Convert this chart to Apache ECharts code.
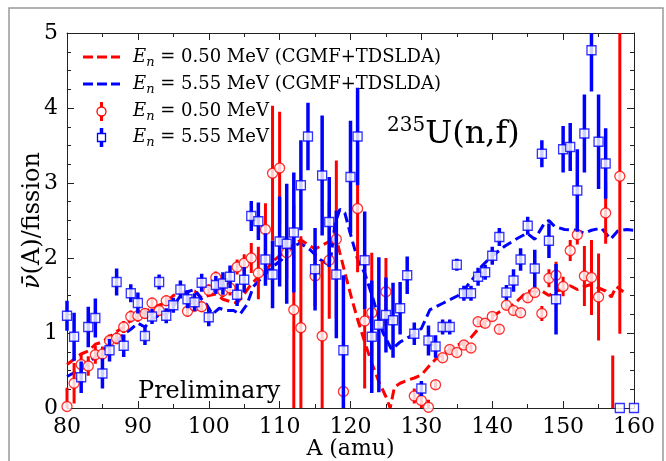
<!DOCTYPE html>
<html><head><meta charset="utf-8">
<script src="https://cdn.jsdelivr.net/npm/echarts@6/dist/echarts.min.js"></script>
<style>html,body{margin:0;padding:0;background:#fff}#c{width:666px;height:461px}</style>
</head><body><div id="c"></div>
<script>
// ---- data ----
const xTicks = [80, 90, 100, 110, 120, 130, 140, 150, 160];
const yTicks = [0, 1, 2, 3, 4, 5];

const theoryLowA  = [80,81,82,83,84,85,86,87,88,89,90,91,92,93,94,95,96,97,98,99,100,101,102,103,104,105,106,107,108,109,110,111,112,113,114,115,116,117,117.8,118.5,119.5,120.2,121.1,122,123,124,125,125.6,126.2,127,128,129,130,131,132,133,134,135,136,137,138,139,140,141,142,143,144,145,146,147,148,149,150,151,152,153,154,155,156,156.8,157.5,158.5];
const theoryLowNu = [0.58,0.65,0.72,0.76,0.85,0.88,0.95,1.02,1.08,1.17,1.24,1.28,1.33,1.37,1.41,1.50,1.54,1.55,1.56,1.47,1.50,1.52,1.45,1.42,1.40,1.52,1.65,1.75,1.83,1.95,2.03,2.10,2.18,2.24,2.18,2.12,2.17,2.22,2.34,2.07,1.70,1.45,1.15,0.88,0.60,0.35,0.15,0.0,0.28,0.33,0.37,0.40,0.44,0.55,0.65,0.72,0.78,0.84,0.86,0.94,1.05,1.15,1.22,1.28,1.33,1.38,1.47,1.56,1.55,1.56,1.50,1.56,1.58,1.63,1.58,1.62,1.65,1.60,1.56,1.48,1.62,1.55];

const theoryHighA  = [80,81,82,83,84,85,86,87,88,89,90,91,92,93,94,95,96,97,98,99,99.7,100.5,101.5,102.5,103.5,104.4,105.4,106.3,107.7,109,110.3,111.7,112.9,114.3,115.7,117.1,117.8,118.5,119.2,120.2,121.1,122,123.2,124.6,125.8,127,128.9,130,131.2,133.1,135.2,136.4,137.5,138.5,139.9,141.8,143.7,144.9,146,147.4,148,148.8,150.2,151.9,153,154,155.4,156.7,157.7,159,160];
const theoryHighNu = [0.42,0.47,0.52,0.60,0.68,0.76,0.85,0.90,0.98,1.05,1.13,1.08,1.18,1.24,1.25,1.35,1.50,1.55,1.58,1.45,1.38,1.25,1.33,1.30,1.30,1.25,1.38,1.62,1.76,1.88,1.98,2.14,2.20,2.11,1.98,1.90,2.45,2.65,2.60,2.25,1.95,1.80,1.45,1.00,0.78,0.88,0.98,1.06,1.31,1.40,1.50,1.62,1.75,1.89,2.02,2.16,2.27,2.33,2.25,2.47,2.50,2.42,2.38,2.37,2.33,2.37,2.40,2.25,2.36,2.38,2.37];

const expLowA   = [80,81,82,83,84,85,86,87,88,89,90,91,92,93,94,97,98,99,100,101,102,103,104,105,106,107,108,109,110,111,112,113,115,116,117,118,119,121,122,123,125,129,130,131,132,133,134,135,136,137,138,139,140,141,142,143,144,145,146,147,148,149,150,151,152,153,154,155,156,157,158];
const expLowNu  = [0.02,0.33,0.58,0.56,0.71,0.72,0.90,0.93,1.08,1.22,1.23,1.26,1.40,1.30,1.43,1.29,1.36,1.35,1.57,1.74,1.56,1.60,1.88,1.93,2.00,1.80,2.38,3.13,3.20,2.07,1.31,1.07,1.76,0.96,1.97,2.25,0.22,2.66,1.16,1.27,1.55,0.16,0.10,0.01,0.31,0.67,0.78,0.74,0.84,0.80,1.15,1.13,1.22,1.05,1.37,1.30,1.27,1.47,1.54,1.26,1.73,1.77,1.62,2.10,2.31,1.76,1.74,1.48,2.60,-1.40,3.09];
const expLowErr = [0.25,0.27,0.15,0.13,0.12,0.10,0.08,0.08,0.08,0.08,0.08,0.07,0.07,0.07,0.07,0.07,0.07,0.07,0.08,0.08,0.08,0.10,0.10,0.12,0.20,0.35,0.35,0.90,0.75,0.35,1.40,1.22,0.40,1.00,0.78,1.05,0.30,0.85,0.90,0.80,0.45,0.10,0.10,0.10,0.06,0.05,0.05,0.05,0.05,0.05,0.05,0.05,0.06,0.06,0.06,0.06,0.06,0.06,0.06,0.10,0.12,0.18,0.13,0.14,0.13,0.40,0.50,0.58,0.41,2.10,2.10];

const expHighA   = [80,81,82,83,84,85,86,87,88,89,90,91,92,93,94,95,96,97,98,99,100,101,102,103,104,105,106,107,108,109,110,111,112,113,114,115,116,117,118,119,120,121,122,123,124,125,126,127,128,129,130,131,132,133,134,135,136,137,138,139,140,141,142,143,144,145,146,147,148,149,150,151,152,153,154,155,156,158,160];
const expHighNu  = [1.23,0.95,0.41,1.08,1.20,0.46,0.77,1.68,0.83,1.53,1.40,0.96,1.22,1.68,1.23,1.37,1.58,1.45,1.41,1.67,1.21,1.64,1.66,1.75,1.51,1.71,2.56,2.49,1.98,1.78,2.22,2.19,2.34,2.97,3.62,1.85,3.10,2.48,1.78,0.77,3.08,3.62,1.97,0.95,1.11,1.24,1.17,1.33,1.77,0.99,0.26,0.90,0.82,1.08,1.08,1.91,1.53,1.53,1.75,1.81,2.03,2.28,1.54,1.70,1.98,2.43,1.86,3.39,2.23,1.45,3.45,3.48,2.90,3.66,4.77,3.55,3.26,0.0,0.0];
const expHighErr = [0.20,0.32,0.21,0.27,0.26,0.20,0.15,0.18,0.15,0.12,0.14,0.12,0.10,0.10,0.10,0.10,0.12,0.12,0.12,0.12,0.12,0.12,0.15,0.15,0.15,0.17,0.20,0.25,0.35,0.45,0.60,0.80,0.80,0.60,0.45,0.55,0.80,0.60,0.85,1.00,0.75,0.65,0.65,0.75,0.90,0.50,0.50,0.35,0.25,0.15,0.10,0.20,0.15,0.10,0.10,0.08,0.10,0.10,0.12,0.10,0.12,0.12,0.10,0.15,0.15,0.12,0.25,0.18,0.23,0.47,0.31,0.32,0.55,0.52,0.55,0.63,0.47,0.0,0.0];

// ---- chart ----
const RED = '#ff0000', BLUE = '#0000ff';
const SERIF = 'DejaVu Serif';
const YMIN = 0, YMAX = 5;

function pairs(a, b) { return a.map((x, i) => [x, b[i]]); }
function triples(a, b, c) { return a.map((x, i) => [x, b[i], c[i]]); }

function errSeries(xs, ys, es, color, w, z) {
  return {
    type: 'custom', z: z, silent: true,
    data: triples(xs, ys, es),
    encode: { x: 0, y: 1 },
    renderItem: function (params, api) {
      const x = api.value(0), y = api.value(1), e = api.value(2);
      let lo = Math.max(y - e, YMIN), hi = Math.min(y + e, YMAX);
      if (hi <= lo) return null;
      const p1 = api.coord([x, lo]), p2 = api.coord([x, hi]);
      return { type: 'line', shape: { x1: p1[0], y1: p1[1], x2: p2[0], y2: p2[1] },
               style: { stroke: color, lineWidth: w } };
    }
  };
}

const axisCommon = {
  type: 'value',
  splitLine: { show: false },
  axisLine: { show: true, onZero: false, lineStyle: { color: '#222', width: 1 } },
  axisTick: { show: true, inside: true, length: 7, lineStyle: { color: '#222' } },
  minorTick: { show: true, length: 4, lineStyle: { color: '#222' } },
};

const chart = echarts.init(document.getElementById('c'), null, { renderer: 'canvas' });
chart.setOption({
  animation: false,
  backgroundColor: '#fff',
  grid: { left: 67, right: 32, top: 33, bottom: 53, containLabel: false, outerBoundsMode: 'none' },
  xAxis: [
    Object.assign({}, axisCommon, {
      min: xTicks[0], max: xTicks[xTicks.length - 1], interval: 10, position: 'bottom',
      minorTick: Object.assign({}, axisCommon.minorTick, { splitNumber: 2 }),
      axisLabel: { color: '#000', fontFamily: SERIF, fontSize: 22, margin: 8 },
      name: 'A (amu)', nameLocation: 'middle', nameGap: 30, nameMoveOverlap: false,
      nameTextStyle: { color: '#000', fontFamily: SERIF, fontSize: 22 }
    }),
    Object.assign({}, axisCommon, {
      min: xTicks[0], max: xTicks[xTicks.length - 1], interval: 10, position: 'top',
      minorTick: Object.assign({}, axisCommon.minorTick, { splitNumber: 2 }),
      axisLabel: { show: false }
    })
  ],
  yAxis: [
    Object.assign({}, axisCommon, {
      min: yTicks[0], max: yTicks[yTicks.length - 1], interval: 1, position: 'left',
      minorTick: Object.assign({}, axisCommon.minorTick, { splitNumber: 4 }),
      axisLabel: { color: '#000', fontFamily: SERIF, fontSize: 22, margin: 9 },
      name: '{i|ν̄}{r|(A)/fission}', nameLocation: 'middle', nameGap: 22, nameRotate: 90, nameMoveOverlap: false,
      nameTextStyle: { color: '#000', fontFamily: SERIF, fontSize: 24,
        rich: { i: { fontFamily: SERIF, fontStyle: 'italic', fontSize: 24, color: '#000' },
                r: { fontFamily: SERIF, fontSize: 24, color: '#000' } } }
    }),
    Object.assign({}, axisCommon, {
      min: yTicks[0], max: yTicks[yTicks.length - 1], interval: 1, position: 'right',
      minorTick: Object.assign({}, axisCommon.minorTick, { splitNumber: 4 }),
      axisLabel: { show: false }
    })
  ],
  series: [
    { type: 'line', name: 'low-theory', data: pairs(theoryLowA, theoryLowNu), showSymbol: false, symbol: 'none',
      lineStyle: { color: RED, width: 3, type: [10, 5] }, z: 2, clip: true, silent: true },
    { type: 'line', name: 'high-theory', data: pairs(theoryHighA, theoryHighNu), showSymbol: false, symbol: 'none',
      lineStyle: { color: BLUE, width: 3, type: [10, 5] }, z: 2, clip: true, silent: true },
    errSeries(expLowA, expLowNu, expLowErr, RED, 3, 3),
    { type: 'scatter', data: pairs(expLowA, expLowNu), symbol: 'circle', symbolSize: 10, clip: true, z: 4,
      itemStyle: { color: '#fff', borderColor: RED, borderWidth: 1.3 }, silent: true },
    errSeries(expHighA, expHighNu, expHighErr, BLUE, 3.5, 5),
    { type: 'scatter', data: pairs(expHighA, expHighNu), symbol: 'rect', symbolSize: 9, clip: true, z: 6,
      itemStyle: { color: '#fff', borderColor: BLUE, borderWidth: 1.3 }, silent: true }
  ],
  graphic: [
    { type: 'rect', shape: { x: 9, y: 8, width: 654, height: 470 }, z: 0,
      style: { fill: null, stroke: '#999', lineWidth: 1.5 }, silent: true },
    // legend
    { type: 'line', shape: { x1: 83, y1: 57, x2: 120, y2: 57 }, style: { stroke: RED, lineWidth: 3, lineDash: [10, 4] }, z: 10 },
    { type: 'line', shape: { x1: 83, y1: 84, x2: 120, y2: 84 }, style: { stroke: BLUE, lineWidth: 3, lineDash: [10, 4] }, z: 10 },
    { type: 'line', shape: { x1: 101.5, y1: 102, x2: 101.5, y2: 121 }, style: { stroke: RED, lineWidth: 3 }, z: 10 },
    { type: 'circle', shape: { cx: 101.5, cy: 111.5, r: 4.5 }, style: { fill: '#fff', stroke: RED, lineWidth: 1.3 }, z: 11 },
    { type: 'line', shape: { x1: 101.5, y1: 128, x2: 101.5, y2: 147 }, style: { stroke: BLUE, lineWidth: 3.5 }, z: 10 },
    { type: 'rect', shape: { x: 97.5, y: 133.5, width: 8, height: 8 }, style: { fill: '#fff', stroke: BLUE, lineWidth: 1.3 }, z: 11 },
    ...[['0.50 MeV (CGMF+TDSLDA)', 57], ['5.55 MeV (CGMF+TDSLDA)', 84], ['0.50 MeV', 111], ['5.55 MeV', 137]].map(([t, y]) => ({
      type: 'text', x: 133, y: y, z: 10,
      style: {
        text: '{e|E}{s|n}{r| = ' + t + '}',
        verticalAlign: 'middle', align: 'left',
        rich: {
          e: { fontFamily: SERIF, fontStyle: 'italic', fontSize: 18, lineHeight: 24, fill: '#000', verticalAlign: 'middle' },
          s: { fontFamily: SERIF, fontStyle: 'italic', fontSize: 13, lineHeight: 13, fill: '#000', verticalAlign: 'bottom' },
          r: { fontFamily: SERIF, fontSize: 18, lineHeight: 24, fill: '#000', verticalAlign: 'middle' }
        }
      }
    })),
    { type: 'text', x: 387, y: 135, z: 10,
      style: { text: '{s|235}{b|U(n,f)}', verticalAlign: 'middle', align: 'left',
        rich: {
          s: { fontFamily: SERIF, fontSize: 20, lineHeight: 20, fill: '#000', verticalAlign: 'top' },
          b: { fontFamily: SERIF, fontSize: 32, lineHeight: 38, fill: '#000', verticalAlign: 'middle' }
        } } },
    { type: 'text', x: 138, y: 392, z: 10,
      style: { text: 'Preliminary', fontFamily: SERIF, fontSize: 24, fill: '#000', verticalAlign: 'middle', align: 'left' } }
  ]
});
</script></body></html>
